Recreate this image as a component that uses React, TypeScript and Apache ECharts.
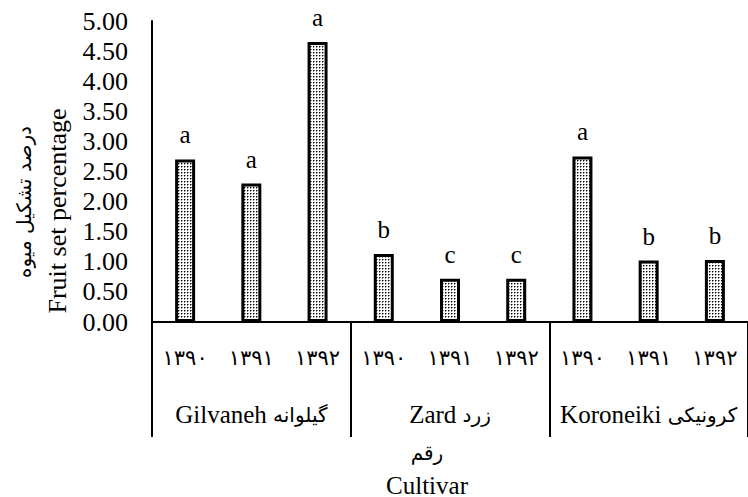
import React, { useEffect, useRef } from "react";
import * as echarts from "echarts";

const years = ["۱۳۹۰", "۱۳۹۱", "۱۳۹۲"];
const cultivarsEn = ["Gilvaneh", "Zard", "Koroneiki"];
const cultivarsFa = ["گیلوانه", "زرد", "کرونیکی"];
const fruitSet = [2.7, 2.3, 4.65, 1.13, 0.72, 0.72, 2.75, 1.02, 1.03];
const letters = ["a", "a", "a", "b", "c", "c", "a", "b", "b"];
const yMin = 0;
const yMax = 5;
const yStep = 0.5;
const yTitleFa = "درصد تشکیل میوه";
const yTitleEn = "Fruit set percentage";
const xTitleFa = "رقم";
const xTitleEn = "Cultivar";

const FONT = "'Liberation Serif', 'Times New Roman', serif";
const FA_FONT = "'DejaVu Sans', sans-serif";

export default function App() {
  const ref = useRef<HTMLDivElement>(null);
  useEffect(() => {
    document.body.style.margin = "0";
    if (!ref.current) return;
    const chart = echarts.init(ref.current, undefined, { renderer: "svg" });

    const cv = document.createElement("canvas");
    cv.width = 3;
    cv.height = 3;
    const ctx = cv.getContext("2d")!;
    ctx.fillStyle = "#ffffff";
    ctx.fillRect(0, 0, 3, 3);
    ctx.fillStyle = "#000000";
    ctx.fillRect(1, 1, 1, 1);
    ctx.fillStyle = "#888888";
    ctx.fillRect(2, 1, 1, 1);
    ctx.fillRect(1, 2, 1, 1);

    const categories = cultivarsEn.flatMap(() => years);

    chart.setOption({
      animation: false,
      backgroundColor: "#ffffff",
      textStyle: { fontFamily: FONT, color: "#000" },
      grid: { left: 152, right: -9, top: 21, bottom: 175, containLabel: false },
      xAxis: [
        {
          type: "category",
          data: categories,
          position: "bottom",
          axisLine: { show: true, lineStyle: { color: "#000", width: 2 } },
          axisTick: { show: false },
          axisLabel: { interval: 0, margin: 25, fontSize: 21, color: "#000", fontFamily: FA_FONT },
          splitLine: { show: false },
        },
        {
          type: "category",
          data: cultivarsEn,
          position: "bottom",
          axisLine: { show: false },
          axisTick: {
            show: true,
            interval: 0,
            length: 115,
            alignWithLabel: false,
            lineStyle: { color: "#000", width: 2 },
          },
          axisLabel: {
            interval: 0,
            margin: 80,
            color: "#000",
            formatter: (_v: string, i: number) => `{en|${cultivarsEn[i]} }{fa|${cultivarsFa[i]}}`,
            rich: {
              en: { fontSize: 25, fontFamily: FONT, color: "#000" },
              fa: { fontSize: 20, fontFamily: FA_FONT, color: "#000" },
            },
          },
          splitLine: { show: false },
        },
      ],
      yAxis: {
        type: "value",
        min: yMin,
        max: yMax,
        interval: yStep,
        axisLine: { show: true, lineStyle: { color: "#000", width: 2 } },
        axisTick: { show: false },
        splitLine: { show: false },
        axisLabel: {
          margin: 24,
          fontSize: 26,
          color: "#000",
          fontFamily: FONT,
          formatter: (v: number) => v.toFixed(2),
        },
      },
      graphic: [
        {
          type: "text",
          x: 24,
          y: 202,
          rotation: Math.PI / 2,
          style: { text: yTitleFa, fontSize: 20, fontFamily: FA_FONT, fill: "#000", align: "center", verticalAlign: "middle" },
        },
        {
          type: "text",
          x: 57,
          y: 211,
          rotation: Math.PI / 2,
          style: { text: yTitleEn, fontSize: 26, fontFamily: FONT, fill: "#000", align: "center", verticalAlign: "middle" },
        },
        {
          type: "text",
          x: 427,
          y: 453,
          style: { text: xTitleFa, fontSize: 20, fontFamily: FA_FONT, fill: "#000", align: "center", verticalAlign: "middle" },
        },
        {
          type: "text",
          x: 427,
          y: 485,
          style: { text: xTitleEn, fontSize: 25, fontFamily: FONT, fill: "#000", align: "center", verticalAlign: "middle" },
        },
      ],
      series: [
        {
          type: "bar",
          xAxisIndex: 0,
          data: fruitSet,
          barWidth: 20,
          itemStyle: {
            color: { image: cv, repeat: "repeat", imageWidth: 3, imageHeight: 3 } as any,
            borderColor: "#000",
            borderWidth: 3,
          },
          label: {
            show: true,
            position: "top",
            distance: 12,
            fontSize: 25,
            color: "#000",
            fontFamily: FONT,
            formatter: (p: any) => letters[p.dataIndex],
          },
        },
      ],
    });
    return () => chart.dispose();
  }, []);
  return <div ref={ref} style={{ width: 748, height: 497 }} />;
}
